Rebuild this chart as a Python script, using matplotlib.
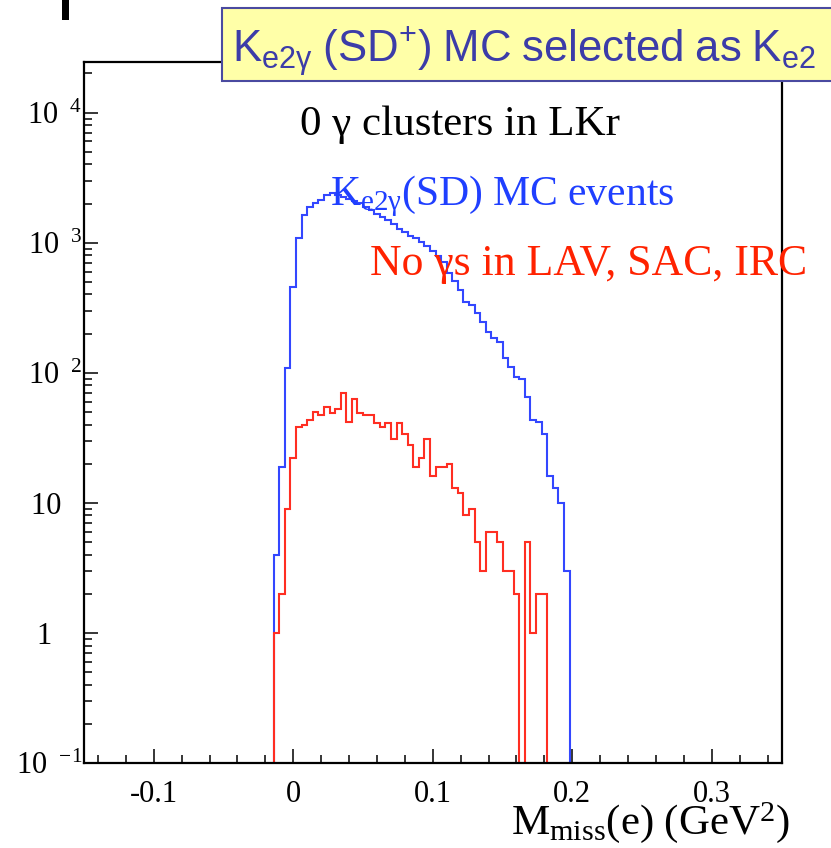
import numpy as np
import matplotlib.pyplot as plt
from matplotlib.patches import Rectangle

plt.rcParams['font.family'] = ['Liberation Serif', 'DejaVu Serif']
plt.rcParams['mathtext.fontset'] = 'custom'
plt.rcParams['mathtext.rm'] = 'Liberation Serif'
plt.rcParams['mathtext.it'] = 'Liberation Serif:italic'
plt.rcParams['mathtext.sf'] = 'Liberation Sans'

# binning of the missing mass histograms: 125 bins over [-0.15, 0.35] GeV^2
x_min, x_max, n_bins = -0.15, 0.35, 125
first_bin = 34  # first filled bin, lower edge at -0.014

# Ke2g(SD) MC events with 0 gamma clusters in LKr
sd_counts = [4, 19, 109, 459, 1092, 1642, 1892, 2032, 2142, 2339,
             2425, 2340, 2260, 2180, 2100, 2030, 1890, 1790, 1670, 1585,
             1500, 1400, 1280, 1215, 1130, 1090, 1020, 950, 865, 795,
             715, 580, 510, 435, 352, 334, 289, 247, 207, 186,
             173, 130, 111, 93, 90, 65, 43, 42, 34, 16,
             13, 10, 3]

# same selection, no photons in LAV, SAC, IRC
veto_counts = [1, 2, 9, 22, 38, 40, 43, 50, 47, 55,
               49, 53, 70, 42, 63, 49, 47, 47, 41, 38,
               41, 31, 41, 34, 28, 19, 22, 31, 16, 19,
               19, 20, 13, 12, 8, 9, 5, 3, 6, 6,
               5, 3, 3, 2, 0, 5, 1, 2, 2]

x_ticks = [-0.1, 0.0, 0.1, 0.2, 0.3]
x_tick_labels = ['-0.1', '0', '0.1', '0.2', '0.3']
y_ticks = [0.1, 1, 10, 100, 1000, 10000]
y_tick_labels = [r'$\mathrm{10\;\;{}^{-1}}$', '1\u2003', '10\u2002\u2009',
                 r'$\mathrm{10\;\;{}^{2}}$', r'$\mathrm{10\;\;{}^{3}}$',
                 r'$\mathrm{10\;\;{}^{4}}$']

fig = plt.figure(figsize=(8.31, 8.48), dpi=100)
ax = fig.add_axes([0.1011, 0.1002, 0.8394, 0.8267])

edges_all = np.linspace(x_min, x_max, n_bins + 1)
floor = 1e-3


def draw_hist(counts, color):
    counts = np.asarray(counts, dtype=float)
    edges = edges_all[first_bin:first_bin + len(counts) + 1]
    vals = np.where(counts > 0, counts, floor)
    ax.stairs(vals, edges, baseline=floor, color=color, lw=1.5)


draw_hist(sd_counts, '#3347ff')
draw_hist(veto_counts, '#ff2e22')

ax.set_yscale('log')
ax.set_xlim(x_min, x_max)
ax.set_ylim(0.1, 2.45e4)

ax.set_xticks(x_ticks)
ax.set_xticklabels(x_tick_labels, fontsize=22)
ax.set_xticks(np.arange(-0.14, 0.35, 0.02), minor=True)
ax.set_yticks(y_ticks)
ax.set_yticklabels(y_tick_labels, fontsize=22)
ax.yaxis.set_minor_locator(plt.matplotlib.ticker.LogLocator(base=10, subs=np.arange(2, 10)))
ax.yaxis.set_minor_formatter(plt.NullFormatter())

ax.tick_params(which='both', direction='in', top=False, right=False, width=1.1)
ax.tick_params(which='major', length=10)
ax.tick_params(which='minor', length=5.5)
ax.tick_params(axis='x', pad=12.5)
ax.tick_params(axis='y', pad=1)
for s in ax.spines.values():
    s.set_linewidth(1.6)

ax.set_xlabel(r'$\mathrm{M_{miss}(e)\ (GeV^{2})}$', fontsize=31, ha='right', va='top')
ax.xaxis.set_label_coords(1.012, -0.053)

ax.text(300 / 831, 1 - 135 / 848, '0 γ clusters in LKr', transform=fig.transFigure,
        fontsize=31, color='black', va='baseline')
ax.text(330 / 831, 1 - 205 / 848, r'$\mathrm{K_{e2\gamma}(SD)\ MC\ events}$',
        transform=fig.transFigure, fontsize=30, color='#1f3fff', va='baseline')
ax.text(370 / 831, 1 - 275 / 848, 'No γs in LAV, SAC, IRC', transform=fig.transFigure,
        fontsize=31.5, color='#ff2200', va='baseline')

# title box at the top of the slide
fig.patches.append(Rectangle((222 / 831, 1 - 81 / 848), 0.8, 73 / 848,
                             transform=fig.transFigure, facecolor='#ffffa8',
                             edgecolor='#4a4aa0', lw=1.5, zorder=5))
fig.text(232 / 831, 1 - 62 / 848,
         r'$\mathsf{K_{e2\gamma}\ (SD^{+})\ MC\ selected\ as\ K_{e2}}$',
         fontsize=31.5, color='#3c3ca8', va='baseline', zorder=6)
fig.patches.append(Rectangle((62 / 831, 1 - 20 / 848), 7 / 831, 20 / 848,
                             transform=fig.transFigure, facecolor='black',
                             edgecolor='none'))

fig.savefig('out.png', dpi=100)
